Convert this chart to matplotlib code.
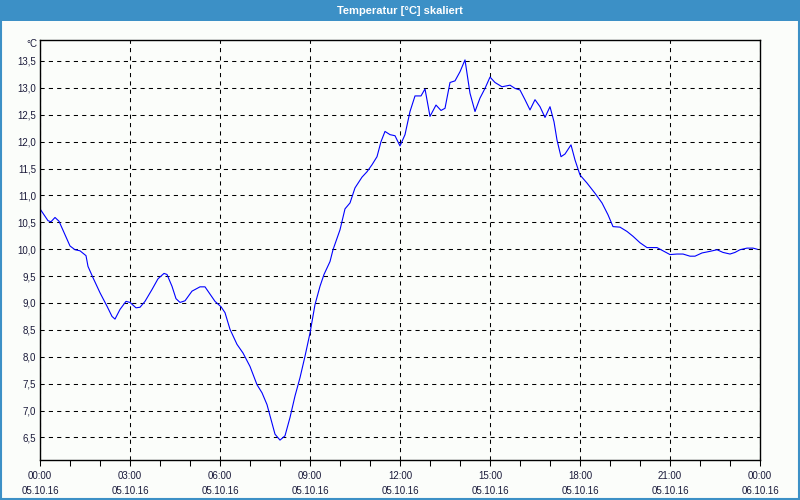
import matplotlib
matplotlib.use("Agg")
import matplotlib.pyplot as plt
from matplotlib.patches import Rectangle
from matplotlib.ticker import MultipleLocator, FuncFormatter

plt.rcParams['font.family'] = ['Liberation Sans', 'DejaVu Sans']
plt.rcParams['lines.scale_dashes'] = False

# minutes after 05.10.16 00:00
minutes = [0, 16, 22, 30, 38, 50, 60, 70, 80, 92, 96, 106, 120, 134, 144, 150,
           160, 172, 180, 192, 200, 210, 224, 236, 248, 254, 264, 272, 280, 290,
           304, 320, 330, 350, 362, 370, 380, 394, 406, 420, 434, 444, 454, 464,
           470, 480, 490, 500, 510, 520, 530, 540, 550, 560, 568, 580, 586, 600,
           610, 620, 630, 644, 654, 664, 674, 682, 690, 700, 710, 720, 730, 740,
           750, 762, 770, 780, 792, 802, 810, 820, 830, 840, 850, 860, 870, 880,
           890, 900, 910, 924, 940, 950, 960, 970, 980, 990, 1000, 1010, 1020,
           1028, 1034, 1042, 1050, 1062, 1070, 1080, 1094, 1110, 1124, 1136, 1146,
           1160, 1174, 1186, 1200, 1214, 1234, 1246, 1260, 1274, 1286, 1300, 1310,
           1324, 1340, 1354, 1366, 1380, 1390, 1400, 1414, 1426, 1434]
temps = [10.75, 10.53, 10.51, 10.59, 10.52, 10.27, 10.06, 9.99, 9.97, 9.88, 9.68,
         9.47, 9.19, 8.94, 8.75, 8.70, 8.88, 9.03, 9.01, 8.91, 8.92, 9.03, 9.25,
         9.45, 9.55, 9.53, 9.31, 9.08, 9.01, 9.04, 9.22, 9.30, 9.30, 9.03, 8.93,
         8.82, 8.51, 8.23, 8.07, 7.82, 7.48, 7.33, 7.11, 6.77, 6.56, 6.45, 6.53,
         6.87, 7.27, 7.61, 8.01, 8.44, 8.97, 9.31, 9.53, 9.77, 9.99, 10.36, 10.75,
         10.86, 11.14, 11.34, 11.44, 11.57, 11.72, 12.00, 12.19, 12.13, 12.11,
         11.92, 12.13, 12.56, 12.85, 12.85, 12.98, 12.47, 12.68, 12.58, 12.62,
         13.10, 13.13, 13.30, 13.52, 12.90, 12.56, 12.81, 12.99, 13.20, 13.10,
         13.02, 13.05, 12.99, 12.96, 12.78, 12.59, 12.78, 12.65, 12.45, 12.65,
         12.37, 12.03, 11.72, 11.77, 11.94, 11.66, 11.38, 11.23, 11.04, 10.86,
         10.64, 10.42, 10.41, 10.33, 10.24, 10.12, 10.03, 10.03, 9.97, 9.90, 9.91,
         9.91, 9.87, 9.87, 9.93, 9.96, 9.99, 9.94, 9.91, 9.94, 9.99, 10.02, 10.02,
         10.00]

title = "Temperatur [°C] skaliert"
unit = "°C"
bg = '#fbfdfa'
bar = '#3c90c6'
txt = '#1a1a3a'

fig = plt.figure(figsize=(8, 5), dpi=100, facecolor=bg)
# title bar + frame
fig.patches.append(Rectangle((0, 1 - 21 / 500), 1, 21 / 500, transform=fig.transFigure,
                             facecolor=bar, edgecolor='none', zorder=0))
fig.patches.append(Rectangle((0.001, 0.002), 0.998, 0.997, transform=fig.transFigure,
                             facecolor='none', edgecolor=bar, linewidth=1.5, zorder=0))
fig.text(0.5, 1 - 10.5 / 500, title, color='white', fontsize=8, fontweight='bold',
         ha='center', va='center')

ax = fig.add_axes([40 / 800, 40 / 500, 720 / 800, 420 / 500])
ax.set_facecolor(bg)
ax.plot([m / 60 for m in minutes], temps, color='#0000ff', linewidth=0.8)

ax.set_xlim(0, 24)
ax.set_ylim(6.08, 13.89)
ax.xaxis.set_major_locator(MultipleLocator(3))
ax.xaxis.set_minor_locator(MultipleLocator(1))
ax.yaxis.set_major_locator(MultipleLocator(0.5))


def xfmt(v, pos):
    h = int(round(v))
    day = "05.10.16" if h < 24 else "06.10.16"
    return "%02d:00\n%s" % (h % 24, day)


ax.xaxis.set_major_formatter(FuncFormatter(xfmt))
ax.yaxis.set_major_formatter(FuncFormatter(lambda v, p: ("%.1f" % v).replace('.', ',')))

ax.grid(True, which='major', color='black', linestyle=(0, (3, 3)), linewidth=0.75)
ax.tick_params(axis='x', which='both', direction='out', length=4, width=0.75,
               color='black', labelsize=7, labelcolor=txt, pad=4)
ax.tick_params(axis='y', which='both', length=0, labelsize=7, labelcolor=txt, pad=3)
for lab in ax.get_xticklabels():
    lab.set_linespacing(1.65)
for s in ax.spines.values():
    s.set_color('black')
    s.set_linewidth(1.0)

fig.text(37 / 800, 1 - 44 / 500, unit, fontsize=7, color=txt, ha='right', va='center')

fig.savefig('out.png', dpi=100, facecolor=bg)
